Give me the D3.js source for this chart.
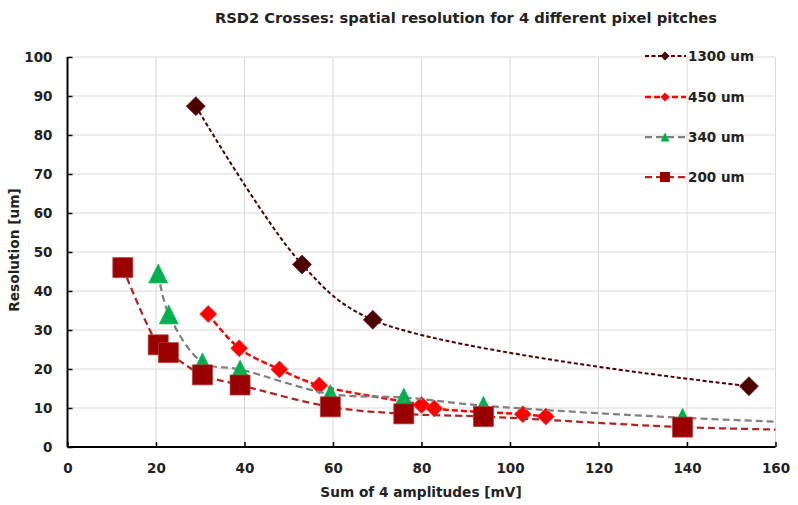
<!DOCTYPE html>
<html>
<head>
<meta charset="utf-8">
<script src="https://cdn.jsdelivr.net/npm/d3@7"></script>
<style>
  html, body { margin: 0; padding: 0; background: #fff; }
  svg { display: block; }
  text { font-family: "DejaVu Sans", sans-serif; font-weight: bold; fill: #222; }
</style>
</head>
<body>
<svg id="chart" width="798" height="505"></svg>
<script>
// ---- Data ----
const title = "RSD2 Crosses: spatial resolution for 4 different pixel pitches";
const xTitle = "Sum of 4 amplitudes [mV]";
const yTitle = "Resolution [um]";
const xTicks = [0, 20, 40, 60, 80, 100, 120, 140, 160];
const yTicks = [0, 10, 20, 30, 40, 50, 60, 70, 80, 90, 100];

const seriesNames = ["1300 um", "450 um", "340 um", "200 um"];

const x1300 = [29, 53, 69, 154];
const y1300 = [87.4, 46.8, 32.6, 15.6];

const x450 = [31.8, 38.8, 47.9, 56.9, 80, 82.9, 102.9, 108.1];
const y450 = [34.1, 25.3, 19.9, 15.8, 10.8, 9.9, 8.4, 7.8];

// last point lies beyond the axis maximum (only its line segment is visible, clipped)
const x340 = [20.5, 22.9, 30.5, 39, 59.4, 76, 94, 139, 168];
const y340 = [44.5, 34.0, 21.7, 19.9, 13.6, 12.7, 10.6, 7.5, 6.2];

const x200 = [12.5, 20.5, 22.8, 30.5, 39, 59.4, 76, 94, 139, 168];
const y200 = [46.0, 26.2, 24.2, 18.5, 15.9, 10.3, 8.5, 7.8, 5.1, 4.3];

// ---- Styles ----
const styles = [
  { xs: x1300, ys: y1300, line: "#4d0000", dash: "4,2.5", lw: 2, marker: "diamond", fill: "#4d0000", stroke: "#6a1a1a", size: 19, lsize: 9 },
  { xs: x450,  ys: y450,  line: "#ff0000", dash: "6,3",   lw: 2.5, marker: "diamond", fill: "#ff0000", stroke: "#ff3030", size: 17, lsize: 9 },
  { xs: x340,  ys: y340,  line: "#808080", dash: "7,4",   lw: 2.25, marker: "triangle", fill: "#00b050", stroke: "#20b860", size: 19, lsize: 9 },
  { xs: x200,  ys: y200,  line: "#b02424", dash: "7,4",   lw: 2.25, marker: "square", fill: "#990000", stroke: "#b83a3a", size: 20, lsize: 10 }
];

const svg = d3.select("#chart");
const L = 67.5, R = 775.5, T = 57, B = 447;
const x = d3.scaleLinear().domain([0, 160]).range([L, R]);
const y = d3.scaleLinear().domain([0, 100]).range([B, T]);

// gridlines
const grid = svg.append("g");
grid.selectAll("line.h").data(yTicks.filter(d => d > 0)).enter().append("line")
  .attr("x1", L).attr("x2", R).attr("y1", d => y(d)).attr("y2", d => y(d))
  .attr("stroke", "#d9d9d9").attr("stroke-width", 1);
grid.selectAll("line.v").data(xTicks.filter(d => d > 0)).enter().append("line")
  .attr("x1", d => x(d)).attr("x2", d => x(d)).attr("y1", T).attr("y2", B)
  .attr("stroke", "#d9d9d9").attr("stroke-width", 1);

// axes
const yAxis = d3.axisLeft(y).tickValues(yTicks).tickSize(-5).tickPadding(20).tickFormat(d3.format("d"));
const xAxis = d3.axisBottom(x).tickValues(xTicks).tickSize(-5).tickPadding(16).tickFormat(d3.format("d"));
const gy = svg.append("g").attr("transform", `translate(${L},0)`).call(yAxis);
const gx = svg.append("g").attr("transform", `translate(0,${B})`).call(xAxis);
[gx, gy].forEach(g => {
  g.select(".domain").attr("stroke", "#000").attr("stroke-width", 2);
  g.selectAll(".tick line").attr("stroke", "#000").attr("stroke-width", 1.5);
  g.selectAll(".tick text").attr("font-family", "DejaVu Sans").attr("font-weight", "bold")
    .attr("font-size", 13.5).attr("fill", "#222");
});
gy.selectAll(".tick text").attr("x", -15);
gy.select(".domain").attr("d", `M0,${T}V${B}`);
gx.select(".domain").attr("d", `M${L},0H${R}`);

// clip
svg.append("clipPath").attr("id", "plotclip").append("rect")
  .attr("x", L).attr("y", T - 15).attr("width", R - L).attr("height", B - T + 15);

function markerPath(type, s) {
  const h = s / 2;
  if (type === "diamond") return `M0,${-h}L${h},0L0,${h}L${-h},0Z`;
  if (type === "square") return `M${-h},${-h}H${h}V${h}H${-h}Z`;
  if (type === "triangle") return `M0,${-h}L${h},${h}L${-h},${h}Z`;
}

const line = d3.line().curve(d3.curveCatmullRom.alpha(0.5)).x(d => x(d[0])).y(d => y(d[1]));

styles.forEach(st => {
  const pts = st.xs.map((v, i) => [v, st.ys[i]]);
  const g = svg.append("g");
  g.append("path").attr("d", line(pts)).attr("fill", "none")
    .attr("stroke", st.line).attr("stroke-width", st.lw).attr("stroke-dasharray", st.dash)
    .attr("clip-path", "url(#plotclip)");
  g.selectAll("path.m").data(pts.filter(p => p[0] <= 160)).enter().append("path")
    .attr("d", markerPath(st.marker, st.size))
    .attr("transform", p => `translate(${x(p[0])},${y(p[1])})`)
    .attr("fill", st.fill).attr("stroke", st.stroke).attr("stroke-width", 0.75);
});

// legend
const legY = [56, 97, 137, 177];
const leg = svg.append("g");
styles.forEach((st, i) => {
  const gy2 = legY[i];
  leg.append("line").attr("x1", 645).attr("x2", 686).attr("y1", gy2).attr("y2", gy2)
    .attr("stroke", st.line).attr("stroke-width", st.lw).attr("stroke-dasharray", st.dash);
  leg.append("path").attr("d", markerPath(st.marker, st.lsize))
    .attr("transform", `translate(665,${gy2})`).attr("fill", st.fill);
  leg.append("text").attr("x", 688).attr("y", gy2 + 5).attr("font-size", 13.5).text(seriesNames[i]);
});

// titles
svg.append("text").attr("x", 466).attr("y", 23).attr("text-anchor", "middle")
  .attr("font-size", 14.7).text(title);
svg.append("text").attr("x", 421).attr("y", 497).attr("text-anchor", "middle")
  .attr("font-size", 13.7).text(xTitle);
svg.append("text").attr("transform", "translate(19,250) rotate(-90)").attr("text-anchor", "middle")
  .attr("font-size", 13.7).text(yTitle);
</script>
</body>
</html>
